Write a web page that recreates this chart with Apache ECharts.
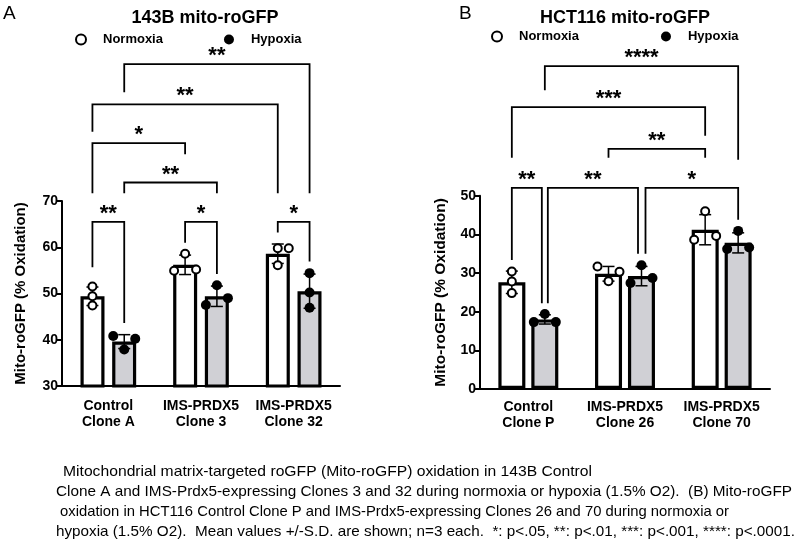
<!DOCTYPE html>
<html><head><meta charset="utf-8">
<script src="https://cdn.jsdelivr.net/npm/echarts@6/dist/echarts.min.js"></script>
<style>html,body{margin:0;padding:0;background:#fff}#c{width:798px;height:543px}</style>
</head><body><div id="c"></div>
<script>
// ---------- Panel A data (143B) ----------
const catsA = ['Control\nClone A', 'IMS-PRDX5\nClone 3', 'IMS-PRDX5\nClone 32'];
const normMeanA = [49.4, 56.2, 58.6];
const normSdA = [2.0, 2.1, 2.1];
const hypMeanA = [39.6, 49.4, 50.5];
const hypSdA = [1.5, 2.2, 3.7];
const normPtsA = [[51.5, 49.4, 47.4], [58.6, 54.9, 55.2], [59.8, 59.8, 56.1]];
const hypPtsA = [[40.8, 40.2, 37.9], [51.8, 49.0, 47.5], [54.4, 50.2, 46.9]];
// jitter slot of each point: -1 left, 0 centre, 1 right
const normJitA = [[0, 0, 0], [0, -1, 1], [0, 1, 0]];
const hypJitA = [[-1, 1, 0], [0, 1, -1], [0, 0, 0]];
const ticksA = [30, 40, 50, 60, 70];
// brackets: [catLeft, seriesLeft, catRight, seriesRight, level, leftLegEnd, rightLegEnd]
const bracketsA = [
  [0, 1, 2, 1, 99.6, 93.5, 71.7],
  [0, 0, 2, 0, 90.9, 85.0, 71.7],
  [0, 0, 1, 0, 82.5, 71.7, 80.1],
  [0, 1, 1, 1, 74.0, 71.7, 71.7],
  [0, 0, 0, 1, 65.5, 55.7, 43.6],
  [1, 0, 1, 1, 65.5, 61.0, 54.2],
  [2, 0, 2, 1, 65.5, 63.2, 56.9]
];
const starsA = ['**', '**', '*', '**', '**', '*', '*'];

// ---------- Panel B data (HCT116) ----------
const catsB = ['Control\nClone P', 'IMS-PRDX5\nClone 26', 'IMS-PRDX5\nClone 70'];
const normMeanB = [27.6, 29.8, 41.2];
const normSdB = [2.9, 1.9, 3.9];
const hypMeanB = [18.0, 29.2, 37.8];
const hypSdB = [1.2, 2.5, 2.6];
const normPtsB = [[30.4, 27.8, 24.8], [31.7, 27.9, 30.3], [46.0, 38.6, 39.6]];
const hypPtsB = [[19.4, 17.3, 17.3], [32.0, 27.4, 28.7], [40.9, 36.2, 36.6]];
const normJitB = [[0, 0, 0], [-1, 0, 1], [0, -1, 1]];
const hypJitB = [[0, -1, 1], [0, -1, 1], [0, -1, 1]];
const ticksB = [0, 10, 20, 30, 40, 50];
const bracketsB = [
  [0, 1, 2, 1, 83.5, 77.3, 59.3],
  [0, 0, 2, 0, 72.9, 59.8, 65.5],
  [1, 0, 2, 0, 62.1, 59.8, 59.8],
  [0, 0, 0, 1, 52.0, 33.4, 22.2],
  [0, 1, 1, 1, 52.0, 22.2, 35.0],
  [1, 1, 2, 1, 52.0, 35.0, 43.8]
];
const starsB = ['****', '***', '**', '**', '**', '*'];

const captionLines = [
  'Mitochondrial matrix-targeted roGFP (Mito-roGFP) oxidation in 143B Control',
  'Clone A and IMS-Prdx5-expressing Clones 3 and 32 during normoxia or hypoxia (1.5% O2).  (B) Mito-roGFP',
  'oxidation in HCT116 Control Clone P and IMS-Prdx5-expressing Clones 26 and 70 during normoxia or',
  'hypoxia (1.5% O2).  Mean values +/-S.D. are shown; n=3 each.  *: p<.05, **: p<.01, ***: p<.001, ****: p<.0001.'
];

// ---------- styles ----------
const FONT = '"Liberation Sans", Arial, sans-serif';
const CAP_FONT = '15px "Liberation Sans", Arial, sans-serif';
const CAP_LEFT = [63, 56, 60, 56];
const CAP_RIGHT = [592, 792, 729, 795];
const HYP_FILL = '#d0d0d5';
const JIT = 11;
const panels = [
  {grid: {left: 62, top: 201, width: 278, height: 185}, barW: 24, gap: '32%', half: 15.9,
   cats: catsA, nM: normMeanA, nS: normSdA, hM: hypMeanA, hS: hypSdA, nP: normPtsA, hP: hypPtsA,
   nJ: normJitA, hJ: hypJitA, ticks: ticksA, br: bracketsA, st: starsA, ins: [],
   nameGap: 34, nameSize: 15, labelMargin: 12},
  {grid: {left: 480, top: 195.7, width: 290, height: 193.3}, barW: 27, gap: '22%', half: 16.5,
   cats: catsB, nM: normMeanB, nS: normSdB, hM: hypMeanB, hS: hypSdB, nP: normPtsB, hP: hypPtsB,
   nJ: normJitB, hJ: hypJitB, ticks: ticksB, br: bracketsB, st: starsB, ins: [[0,0],[0,0],[0,0],[0,-3],[3,-3.5],[4,0]],
   nameGap: 31, nameSize: 15.5, labelMargin: 10}
];

const grids = [], xAxes = [], yAxes = [], series = [];
panels.forEach((p, k) => {
  grids.push(p.grid);
  xAxes.push({
    type: 'category', gridIndex: k, data: p.cats,
    axisLine: {lineStyle: {color: '#000', width: 2}},
    axisTick: {alignWithLabel: true, length: 6, lineStyle: {color: '#000', width: 2}},
    axisLabel: {interval: 0, margin: p.labelMargin, color: '#000', fontFamily: FONT, fontWeight: 'bold', fontSize: 14, lineHeight: 16}
  });
  yAxes.push({
    type: 'value', gridIndex: k, min: p.ticks[0], max: p.ticks[p.ticks.length - 1],
    interval: p.ticks[1] - p.ticks[0],
    name: 'Mito-roGFP (% Oxidation)', nameLocation: 'middle', nameGap: p.nameGap,
    nameTextStyle: {color: '#000', fontFamily: FONT, fontWeight: 'bold', fontSize: p.nameSize},
    splitLine: {show: false},
    axisLine: {show: true, lineStyle: {color: '#000', width: 2}},
    axisTick: {show: true, length: 5, lineStyle: {color: '#000', width: 2}},
    axisLabel: {color: '#000', fontFamily: FONT, fontWeight: 'bold', fontSize: 14, margin: 4}
  });
  series.push({type: 'bar', name: 'Normoxia mean', xAxisIndex: k, yAxisIndex: k, data: p.nM,
    barWidth: p.barW, barGap: p.gap, z: 2, silent: true,
    itemStyle: {color: '#fff', borderColor: '#000', borderWidth: 3.2}});
  series.push({type: 'bar', name: 'Hypoxia mean', xAxisIndex: k, yAxisIndex: k, data: p.hM,
    barWidth: p.barW, barGap: p.gap, z: 2, silent: true,
    itemStyle: {color: HYP_FILL, borderColor: '#000', borderWidth: 3.2}});
  const errData = [];
  p.nM.forEach((m, i) => errData.push([i, m, p.nS[i], -1]));
  p.hM.forEach((m, i) => errData.push([i, m, p.hS[i], 1]));
  series.push({type: 'custom', xAxisIndex: k, yAxisIndex: k, z: 3, silent: true, data: errData,
    encode: {x: 0, y: 1},
    renderItem: (params, api) => {
      const c = api.value(0), m = api.value(1), s = api.value(2), side = api.value(3);
      const t = api.coord([c, m + s]), b = api.coord([c, m - s]);
      const x = t[0] + side * p.half;
      const st = {stroke: '#000', lineWidth: 1.5};
      return {type: 'group', children: [
        {type: 'line', shape: {x1: x, y1: t[1], x2: x, y2: b[1]}, style: st},
        {type: 'line', shape: {x1: x - 6, y1: t[1], x2: x + 6, y2: t[1]}, style: st},
        {type: 'line', shape: {x1: x - 6, y1: b[1], x2: x + 6, y2: b[1]}, style: st}
      ]};
    }});
  const pts = (P, J, side) => {
    const out = [];
    P.forEach((arr, i) => arr.forEach((v, j) => out.push({value: [i, v], symbolOffset: [side * p.half + J[i][j] * JIT, 0]})));
    return out;
  };
  series.push({type: 'scatter', name: 'Normoxia', xAxisIndex: k, yAxisIndex: k, z: 4, silent: true,
    symbol: 'circle', symbolSize: 8, data: pts(p.nP, p.nJ, -1),
    itemStyle: {color: '#fff', borderColor: '#000', borderWidth: 2, opacity: 1}});
  series.push({type: 'scatter', name: 'Hypoxia', xAxisIndex: k, yAxisIndex: k, z: 4, silent: true,
    symbol: 'circle', symbolSize: 10, data: pts(p.hP, p.hJ, 1),
    itemStyle: {color: '#000', opacity: 1}});
  series.push({type: 'custom', xAxisIndex: k, yAxisIndex: k, z: 5, silent: true, clip: false,
    data: p.br.map(b => [b[0], b[4], b[2], b[5], b[6], b[1], b[3]]),
    encode: {x: 0, y: 1},
    renderItem: (params, api) => {
      const i = params.dataIndex;
      const cL = api.value(0), lev = api.value(1), cR = api.value(2);
      const legL = api.value(3), legR = api.value(4), sL = api.value(5), sR = api.value(6);
      const ins = p.ins[i] || [0, 0];
      const pL = api.coord([cL, lev]), pR = api.coord([cR, lev]);
      const xL = pL[0] + (sL ? p.half : -p.half) + ins[0];
      const xR = pR[0] + (sR ? p.half : -p.half) + ins[1];
      const yL = api.coord([cL, legL])[1], yR = api.coord([cR, legR])[1];
      return {type: 'group', children: [
        {type: 'polyline', shape: {points: [[xL, yL], [xL, pL[1]], [xR, pL[1]], [xR, yR]]},
         style: {stroke: '#000', lineWidth: 1.8, fill: null}},
        {type: 'text', style: {text: p.st[i], x: (xL + xR) / 2, y: pL[1] - 8,
          font: 'bold 22px ' + FONT, fill: '#000', align: 'center', verticalAlign: 'middle',
          textAlign: 'center', textVerticalAlign: 'middle'}}
      ]};
    }});
});

const graphics = [
  {type: 'text', left: 3, top: 4, style: {text: 'A', font: '19px ' + FONT, fill: '#000'}},
  {type: 'text', left: 459, top: 4, style: {text: 'B', font: '19px ' + FONT, fill: '#000'}},
  {type: 'text', x: 205, y: 18, style: {text: '143B mito-roGFP', font: 'bold 18px ' + FONT, fill: '#000', align: 'center', verticalAlign: 'middle'}},
  {type: 'text', x: 625, y: 18, style: {text: 'HCT116 mito-roGFP', font: 'bold 18px ' + FONT, fill: '#000', align: 'center', verticalAlign: 'middle'}}
];
// condensed caption: horizontally scale each line to its span in the figure
const ctx = document.createElement('canvas').getContext('2d');
ctx.font = CAP_FONT;
captionLines.forEach((t, i) => {
  const w = ctx.measureText(t).width;
  const sx = (CAP_RIGHT[i] - CAP_LEFT[i]) / w;
  graphics.push({type: 'text', x: CAP_LEFT[i], y: 472 + i * 20, scaleX: sx, scaleY: 1,
    style: {text: t, font: CAP_FONT, fill: '#000', verticalAlign: 'middle'}});
});

const legendBase = {
  data: ['Normoxia', 'Hypoxia'], icon: 'circle', itemWidth: 10, itemHeight: 10,
  selectedMode: false, orient: 'horizontal', padding: 0,
  textStyle: {color: '#000', fontFamily: FONT, fontWeight: 'bold', fontSize: 13, padding: [0, 0, 0, 12]}
};

const option = {
  backgroundColor: '#fff',
  animation: false,
  grid: grids,
  xAxis: xAxes,
  yAxis: yAxes,
  legend: [
    Object.assign({}, legendBase, {left: 75, top: 33, itemGap: 61}),
    Object.assign({}, legendBase, {left: 491, top: 30, itemGap: 82})
  ],
  graphic: graphics,
  series: series
};
const chart = echarts.init(document.getElementById('c'), null, {renderer: 'canvas'});
chart.setOption(option);
</script></body></html>
